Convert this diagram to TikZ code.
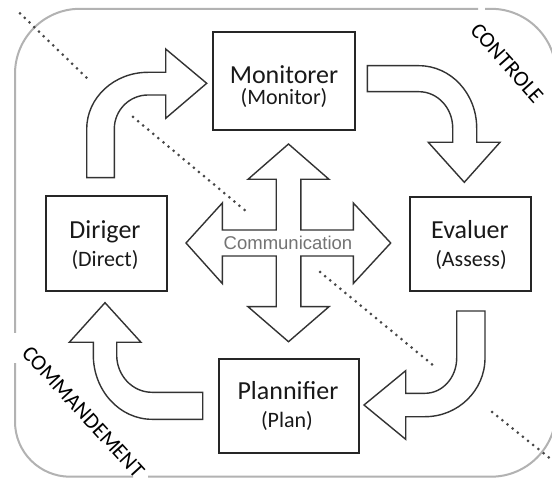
\documentclass[tikz,border=0pt]{standalone}
\usepackage{fontspec}
\setmainfont{Carlito}
\newfontfamily\commfont{Liberation Sans}
\begin{document}
\begin{tikzpicture}[x=1pt,y=-1pt,
  box/.style={draw=black!85, line width=1.8pt, fill=white, inner sep=0pt},
  blockarrow/.style={draw=black!80, line width=1.4pt, fill=white, line join=miter},
  tA/.style={anchor=base, text=black!90, font=\fontsize{26}{30}\selectfont, inner sep=0pt},
  tB/.style={anchor=base, text=black!90, font=\fontsize{22}{26}\selectfont, inner sep=0pt},
  zone/.style={text=black, font=\fontsize{22}{26}\selectfont, inner sep=0pt},
  dotline/.style={draw=black!72, line width=3pt, dash pattern=on 0pt off 6.6pt, line cap=round},
  frameline/.style={draw=black!30, line width=2pt}]
\useasboundingbox (0,0) rectangle (552,481);
\fill[white] (0,0) rectangle (552,481);

% outer frame (with gaps)
\draw[frameline] (15,333) [rounded corners=65pt] -- (15,8.8) -- (478,8.8);
\draw[frameline] (485,8.8) [rounded corners=65pt] -- (556,8.8) -- (556,476.7) -- (148,476.7);
\draw[frameline] (133,476.7) [rounded corners=55pt] -- (15,476.7) -- (15,363);

% dotted diagonals
\draw[dotline] (20,13.3) -- (90,81);
\draw[dotline] (133,117) -- (247,212);
\draw[dotline] (320,272) -- (434,366);
\draw[dotline] (492,412) -- (552,460);

% boxes
\node[box, minimum width=142pt, minimum height=98pt] (mon) at (284,81) {};
\node[box, minimum width=121pt, minimum height=95pt] (dir) at (106.5,243.5) {};
\node[box, minimum width=121pt, minimum height=94pt] (eva) at (470.5,244) {};
\node[box, minimum width=140pt, minimum height=94pt] (pla) at (289,406) {};

\node[tA] (monA) at (284,83.3) {Monitorer};
\node[tB] (monB) at (284,104.5) {(Monitor)};
\node[tA] (dirA) at (105,238.3) {Diriger};
\node[tB] (dirB) at (105,267) {(Direct)};
\node[tA] (evaA) at (470,238.3) {Evaluer};
\node[tB] (evaB) at (471,266.5) {(Assess)};
\node[tA] (plaA) at (288,399.3) {Plannifier};
\node[tB] (plaB) at (287,427.5) {(Plan)};

% curved block arrows
% Diriger -> Monitorer
\draw[blockarrow] (86.7,177.7) -- (86.7,129) .. controls (86.7,97.7) and (114.1,72.3) .. (148,72.3)
  -- (165.7,72.3) -- (165.7,49) -- (206.7,83.3) -- (165.7,118.3) -- (165.7,95) -- (148,95)
  .. controls (129.4,95) and (114.3,110.2) .. (114.3,129) -- (114.3,177.7) -- cycle;
% Monitorer -> Evaluer
\draw[blockarrow] (367.3,65.7) -- (419,65.7) .. controls (450.9,65.7) and (476.7,93.6) .. (476.7,128)
  -- (476.7,142.3) -- (500,142.3) -- (464.3,182.3) -- (428.3,142.3) -- (452.7,142.3) -- (452.7,128)
  .. controls (452.7,108) and (437.6,91.7) .. (419,91.7) -- (367.3,91.7) -- cycle;
% Evaluer -> Plannifier
\draw[blockarrow] (456.7,311) -- (485,311) -- (485,358) .. controls (485,390.4) and (458.1,416.7) .. (425,416.7)
  -- (405.7,416.7) -- (405.7,439.3) -- (364,405) -- (405.7,370.7) -- (405.7,393.3) -- (425,393.3)
  .. controls (442.5,393.3) and (456.7,377.5) .. (456.7,358) -- cycle;
% Plannifier -> Diriger
\draw[blockarrow] (202.7,419.3) -- (152,419.3) .. controls (119.6,419.3) and (93.3,390.5) .. (93.3,355)
  -- (93.3,342.3) -- (69.3,342.3) -- (105,302.7) -- (141,342.3) -- (116.7,342.3) -- (116.7,355)
  .. controls (116.7,375.6) and (132.5,392.3) .. (152,392.3) -- (202.7,392.3) -- cycle;

% central four-way arrow
\draw[blockarrow] (288.5,144) -- (329,179.3) -- (300.8,179.3) -- (300.8,230) -- (353.3,230) -- (353.3,203)
  -- (390.7,243) -- (353.3,283.5) -- (353.3,256) -- (300.8,256) -- (300.8,306.7) -- (329,306.7)
  -- (288.5,341.7) -- (248,306.7) -- (276.2,306.7) -- (276.2,256) -- (222.3,256) -- (222.3,283.5)
  -- (186,243) -- (222.3,203) -- (222.3,230) -- (276.2,230) -- (276.2,179.3) -- (248,179.3) -- cycle;
\node[text=black!55, font=\commfont\fontsize{18.5}{22}\selectfont, inner sep=0pt] (comm) at (288,243.3) {Communication};

% zone labels
\node[zone, rotate=-48.3] (ctrl) at (507,63) {CONTROLE};
\node[zone, rotate=-47.5] (cmd) at (83.3,412) {COMMANDEMENT};
\end{tikzpicture}
\end{document}
